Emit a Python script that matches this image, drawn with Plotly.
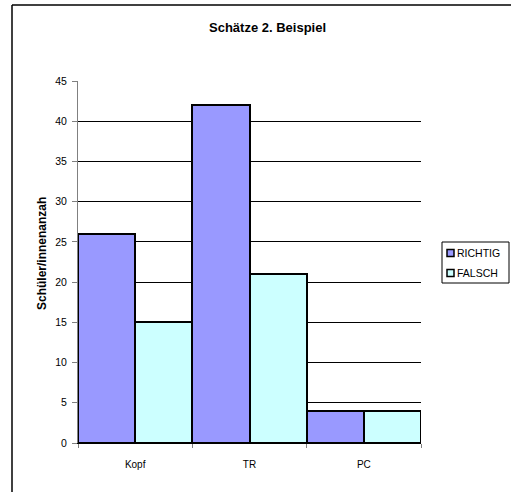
import plotly.graph_objects as go

categories = ["Kopf", "TR", "PC"]
richtig = [26, 42, 4]
falsch = [15, 21, 4]
y_ticks = [0, 5, 10, 15, 20, 25, 30, 35, 40, 45]
series_names = ["RICHTIG", "FALSCH"]
series_colors = ["#9999FF", "#CCFFFF"]

W, H = 511, 492
L, R, T, B = 78, 90, 81, 49
pw, ph = W - L - R, H - T - B


def px_x(x):
    return (x - L) / pw


def px_y(y):
    return (H - B - y) / ph


FAMILY = "Liberation Sans, Arial, sans-serif"

fig = go.Figure()
for name, vals, col in zip(series_names, [richtig, falsch], series_colors):
    fig.add_trace(go.Bar(x=categories, y=vals, name=name,
                         marker=dict(color=col, line=dict(color="black", width=2))))

# chart frame (top and left edges) and a compact boxed legend on the right
shapes = [
    dict(type="line", xref="paper", yref="paper",
         x0=px_x(12), x1=px_x(W), y0=px_y(5), y1=px_y(5),
         line=dict(color="black", width=1.5), layer="below"),
    dict(type="line", xref="paper", yref="paper",
         x0=px_x(12), x1=px_x(12), y0=px_y(5), y1=px_y(H),
         line=dict(color="black", width=1.5), layer="below"),
    dict(type="rect", xref="paper", yref="paper",
         x0=px_x(442), x1=px_x(509), y0=px_y(283), y1=px_y(242),
         line=dict(color="black", width=1), fillcolor="white"),
]
annotations = [
    dict(text="<b>Schätze 2. Beispiel</b>", xref="paper", yref="paper",
         x=px_x(267), y=px_y(28), xanchor="center", yanchor="middle", showarrow=False,
         font=dict(family=FAMILY, size=13, color="black")),
    dict(text="<b>Schüler/innenanzah</b>", xref="paper", yref="paper",
         x=px_x(42), y=px_y(254), xanchor="center", yanchor="middle",
         showarrow=False, textangle=-90,
         font=dict(family=FAMILY, size=12, color="black")),
]
for i, (name, col) in enumerate(zip(series_names, series_colors)):
    cy = 253 + i * 20
    shapes.append(dict(type="rect", xref="paper", yref="paper",
                       x0=px_x(447), x1=px_x(454), y0=px_y(cy + 3.5), y1=px_y(cy - 3.5),
                       line=dict(color="black", width=1.5), fillcolor=col))
    annotations.append(dict(text=name, xref="paper", yref="paper",
                            x=px_x(455), y=px_y(cy), xanchor="left", yanchor="middle",
                            showarrow=False,
                            font=dict(family=FAMILY, size=10.5, color="black")))

fig.update_layout(
    width=W, height=H,
    margin=dict(l=L, r=R, t=T, b=B, pad=0, autoexpand=False),
    paper_bgcolor="white", plot_bgcolor="white",
    barmode="group", bargap=0, bargroupgap=0,
    font=dict(family=FAMILY, size=10, color="black"),
    showlegend=False,
    xaxis=dict(tickson="boundaries", ticks="outside", ticklen=4, tickcolor="#808080",
               showline=True, linecolor="black", linewidth=1, showgrid=False,
               tickfont=dict(size=10), ticklabelstandoff=12, fixedrange=True),
    yaxis=dict(range=[0, 45], tickvals=y_ticks, ticks="outside", ticklen=5,
               tickcolor="#808080", showline=True, linecolor="#808080", linewidth=1,
               showgrid=True, gridcolor="black", gridwidth=1, zeroline=False,
               tickfont=dict(size=10.5), ticklabelstandoff=3, fixedrange=True),
    shapes=shapes,
    annotations=annotations,
)

fig.write_html("out.html", config={"displayModeBar": False})
